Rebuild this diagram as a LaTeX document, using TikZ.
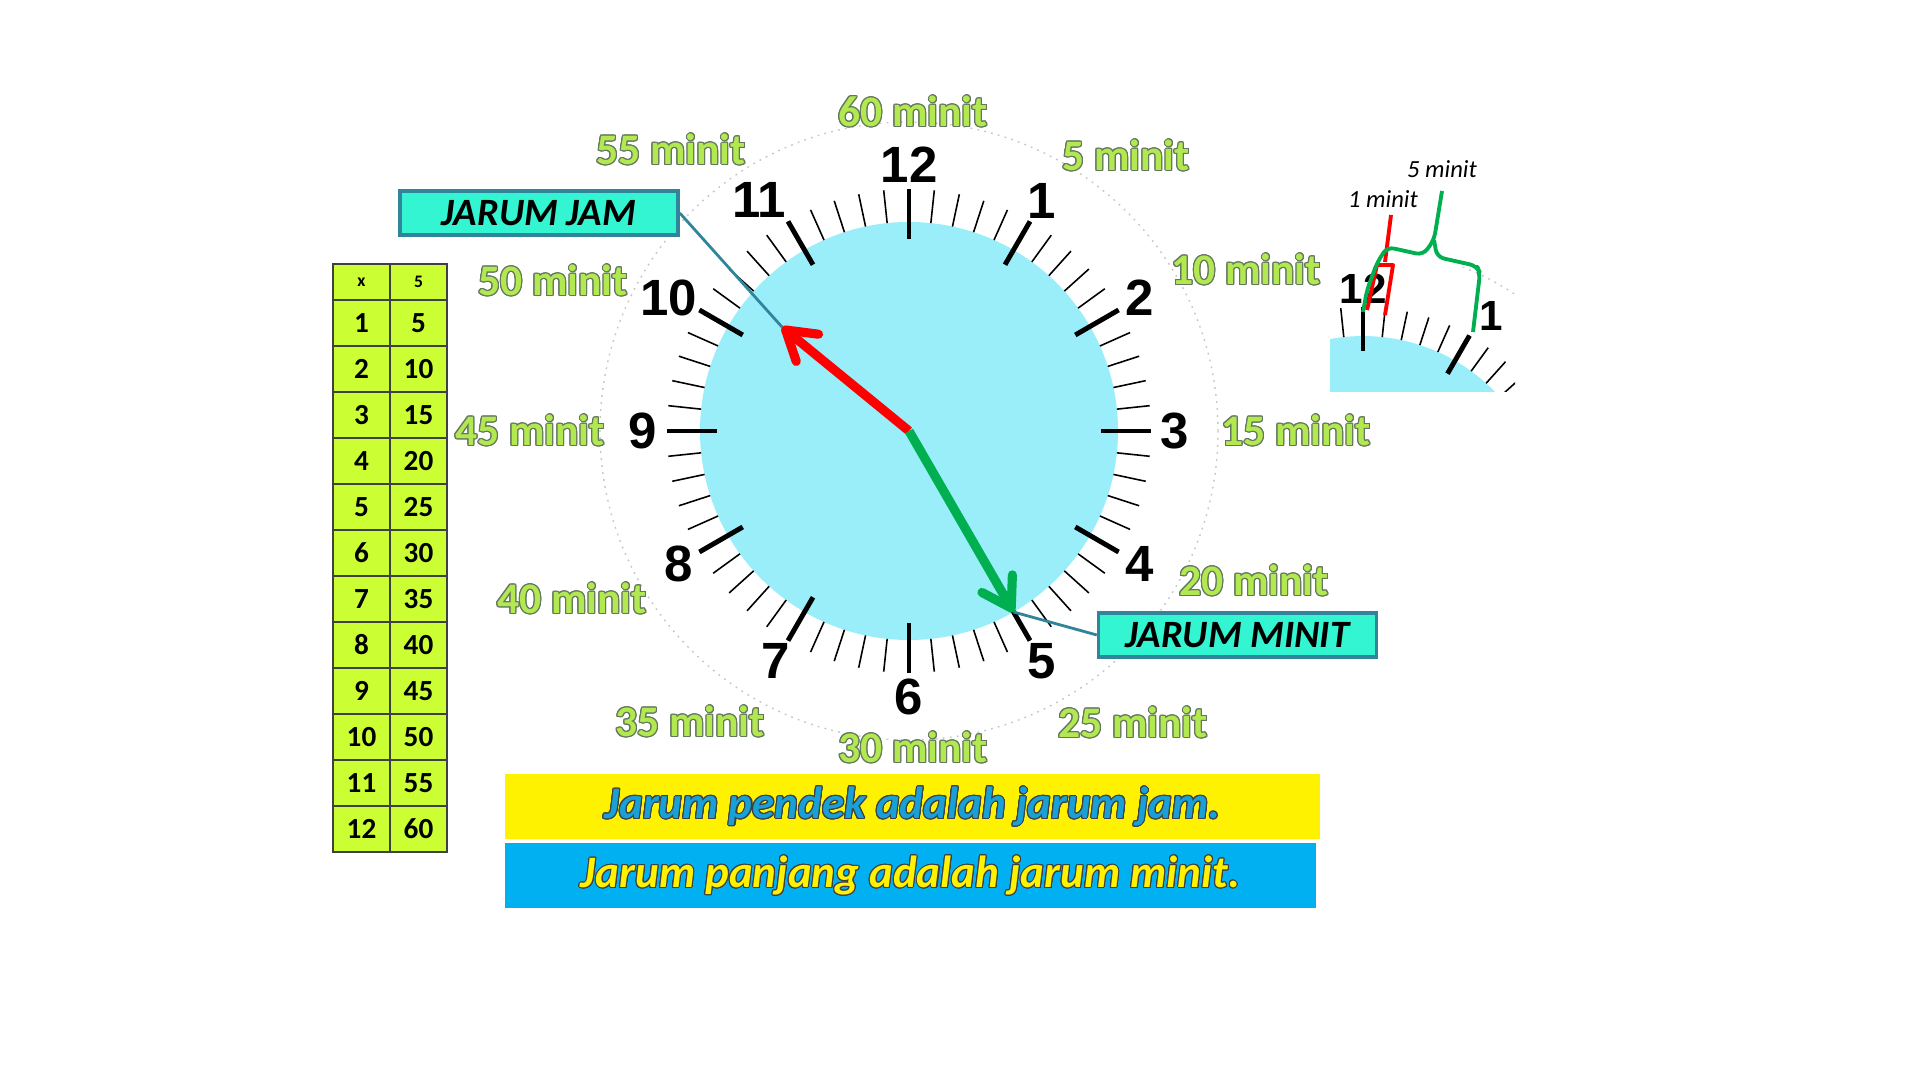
\documentclass[tikz,border=0pt]{standalone}
\usepackage{fontspec}
\setmainfont{Carlito}
\newfontfamily\numfont{Liberation Sans}
\usepackage{contour}
\contourlength{0.3pt}
\usetikzlibrary{calc,positioning,arrows.meta}
\definecolor{facecyan}{RGB}{153,238,250}
\definecolor{tablegreen}{RGB}{204,255,51}
\definecolor{boxaqua}{RGB}{51,245,210}
\definecolor{boxedge}{RGB}{49,133,155}
\definecolor{minitgreen}{RGB}{178,232,80}
\definecolor{minitedge}{RGB}{100,118,95}
\definecolor{handgreen}{RGB}{0,176,80}
\definecolor{barblue}{RGB}{0,176,240}
\definecolor{textblue}{RGB}{25,160,215}
\tikzset{
  minortick/.style={line width=0.45pt,black},           % minute marks
  majortick/.style={line width=1.4pt,black},            % hour marks
  dialring/.style={gray!45,line width=0.4pt,dash pattern=on 0.5pt off 1.5pt},
  hournum/.style={font={\numfont\bfseries\fontsize{14.5}{16}\selectfont},inner sep=0pt},
  insetnum/.style={font={\numfont\bfseries\fontsize{12}{14}\selectfont},inner sep=0pt},
  minitlabel/.style={font={\bfseries\fontsize{12.4}{14}\selectfont},text=minitgreen,inner sep=0pt},
  tablecell/.style={font={\bfseries\fontsize{8.3}{9}\selectfont},inner sep=0pt},
  tablehead/.style={font={\bfseries\fontsize{5}{6}\selectfont},inner sep=0pt},
  tableline/.style={line width=0.5pt,black!75},
  labelbox/.style={draw=boxedge,line width=1pt,fill=boxaqua,minimum width=2.78cm,
                   minimum height=0.44cm,inner sep=0pt,font={\bfseries\itshape\fontsize{11}{13}\selectfont}},
  barbox/.style={minimum height=0.65cm,inner sep=0pt,font={\bfseries\itshape\fontsize{12.8}{15}\selectfont}},
  hand/.style={line width=2.6pt,-{Straight Barb[length=8pt,width=10pt,round]}},
  pointer/.style={boxedge,line width=0.8pt},
  brace/.style={line width=1.1pt,line join=round},
  insetlabel/.style={font={\itshape\fontsize{7}{8}\selectfont},inner sep=0pt}
}

\begin{document}
\begin{tikzpicture}
\useasboundingbox (0,0) rectangle (19.2,10.8);
\coordinate (C) at (9.09,6.49);

% clock face
\fill[facecyan] (C) circle (2.09);
\draw[dialring] (C) circle (3.09);
\foreach \m in {0,...,59}
  \draw[minortick] ($(C)+(\m*6:2.09)$) -- ($(C)+(\m*6:2.42)$);
\foreach \h in {0,...,11}
  \draw[majortick] ($(C)+(\h*30:1.92)$) -- ($(C)+(\h*30:2.42)$);
\foreach \h in {1,...,9,12}
  \node[hournum] (n\h) at ($(C)+(90-\h*30:2.66)$) {\h};
\node[hournum] (n10) at ($(C)+(151:2.75)$) {10};
\node[hournum] (n11) at ($(C)+(123:2.75)$) {11};

% minute labels round the dial
\node[minitlabel] (m60) at (9.13,9.68) {\contour{minitedge}{60 minit}};
\node[minitlabel] (m5) at (11.26,9.24) {\contour{minitedge}{5 minit}};
\node[minitlabel] (m10) at (12.46,8.10) {\contour{minitedge}{10 minit}};
\node[minitlabel] (m15) at (12.96,6.49) {\contour{minitedge}{15 minit}};
\node[minitlabel] (m20) at (12.54,4.99) {\contour{minitedge}{20 minit}};
\node[minitlabel] (m25) at (11.33,3.57) {\contour{minitedge}{25 minit}};
\node[minitlabel] (m30) at (9.13,3.32) {\contour{minitedge}{30 minit}};
\node[minitlabel] (m35) at (6.90,3.58) {\contour{minitedge}{35 minit}};
\node[minitlabel] (m40) at (5.72,4.81) {\contour{minitedge}{40 minit}};
\node[minitlabel] (m45) at (5.30,6.49) {\contour{minitedge}{45 minit}};
\node[minitlabel] (m50) at (5.53,7.99) {\contour{minitedge}{50 minit}};
\node[minitlabel] (m55) at (6.71,9.30) {\contour{minitedge}{55 minit}};

% hands and their callouts
\coordinate (htip) at ($(C)+(140.7:1.64)$);
\coordinate (mtip) at ($(C)+(-60:2.09)$);
\node[labelbox] (jam) at (5.39,8.67) {JARUM JAM};
\node[labelbox] (minit) at (12.375,4.45) {JARUM MINIT};
\draw[pointer] (jam.east) -- (htip);
\draw[pointer] (minit.west) -- (mtip);
\draw[hand,red] (C) -- (htip);
\draw[hand,handgreen] (C) -- (mtip);

% times table
\fill[tablegreen] (3.33,2.28) rectangle (4.47,8.16);
\draw[tableline] (3.33,2.28) rectangle (4.47,8.16);
\draw[tableline] (3.90,2.28) -- (3.90,8.16);
\foreach \r in {1,...,12}
  \draw[tableline] (3.33,2.28+\r*0.46) -- (4.47,2.28+\r*0.46);
\node[tablehead] (hx) at (3.615,7.98) {x};
\node[tablehead] (h5) at (4.185,7.98) {5};
\foreach \i in {1,...,12}{
  \pgfmathtruncatemacro\v{5*\i}
  \node[tablecell] (x\i) at (3.615,8.03-\i*0.46) {\i};
  \node[tablecell] (v\i) at (4.185,8.03-\i*0.46) {\v};
}

% bottom sentences
\node[barbox,fill=yellow,minimum width=8.15cm,text=textblue] (pendek) at (9.125,2.73)
  {\contour{black!75}{Jarum pendek adalah jarum jam.}};
\node[barbox,fill=barblue,minimum width=8.11cm,text=yellow] (panjang) at (9.105,2.04)
  {\contour{black!75}{Jarum panjang adalah jarum minit.}};

% close-up of 12 to 1
\begin{scope}
  \clip (13.30,6.88) rectangle (15.15,8.12);
  \begin{scope}[shift={(13.63,5.60)},scale=0.88]
    \fill[facecyan] (0,0) circle (2.09);
    \draw[dialring] (0,0) circle (3.09);
    \foreach \m in {0,...,59}
      \draw[minortick] (\m*6:2.09) -- (\m*6:2.42);
    \foreach \h in {0,...,11}
      \draw[majortick] (\h*30:1.92) -- (\h*30:2.42);
    \node[insetnum] (i12) at (90:2.63) {12};
    \node[insetnum] (i1) at (58:2.74) {1};
  \end{scope}
\end{scope}
\draw[brace,red] (13.91,8.65) -- (13.85,8.18);
\draw[brace,red] (13.67,7.70) -- (13.77,8.15) -- (13.93,8.15) -- (13.85,7.65);
\draw[brace,handgreen,rounded corners=2pt] (13.63,7.68) -- (13.67,7.90) -- (13.77,8.17)
  -- (13.87,8.33) -- (14.23,8.25) -- (14.34,8.40) -- (14.42,8.89);
\draw[brace,handgreen,rounded corners=2pt] (14.34,8.40) -- (14.37,8.23) -- (14.77,8.14)
  -- (14.80,8.07) -- (14.73,7.48);
\node[insetlabel] (one) at (13.83,8.81) {1 minit};
\node[insetlabel] (five) at (14.42,9.11) {5 minit};
\end{tikzpicture}
\end{document}
